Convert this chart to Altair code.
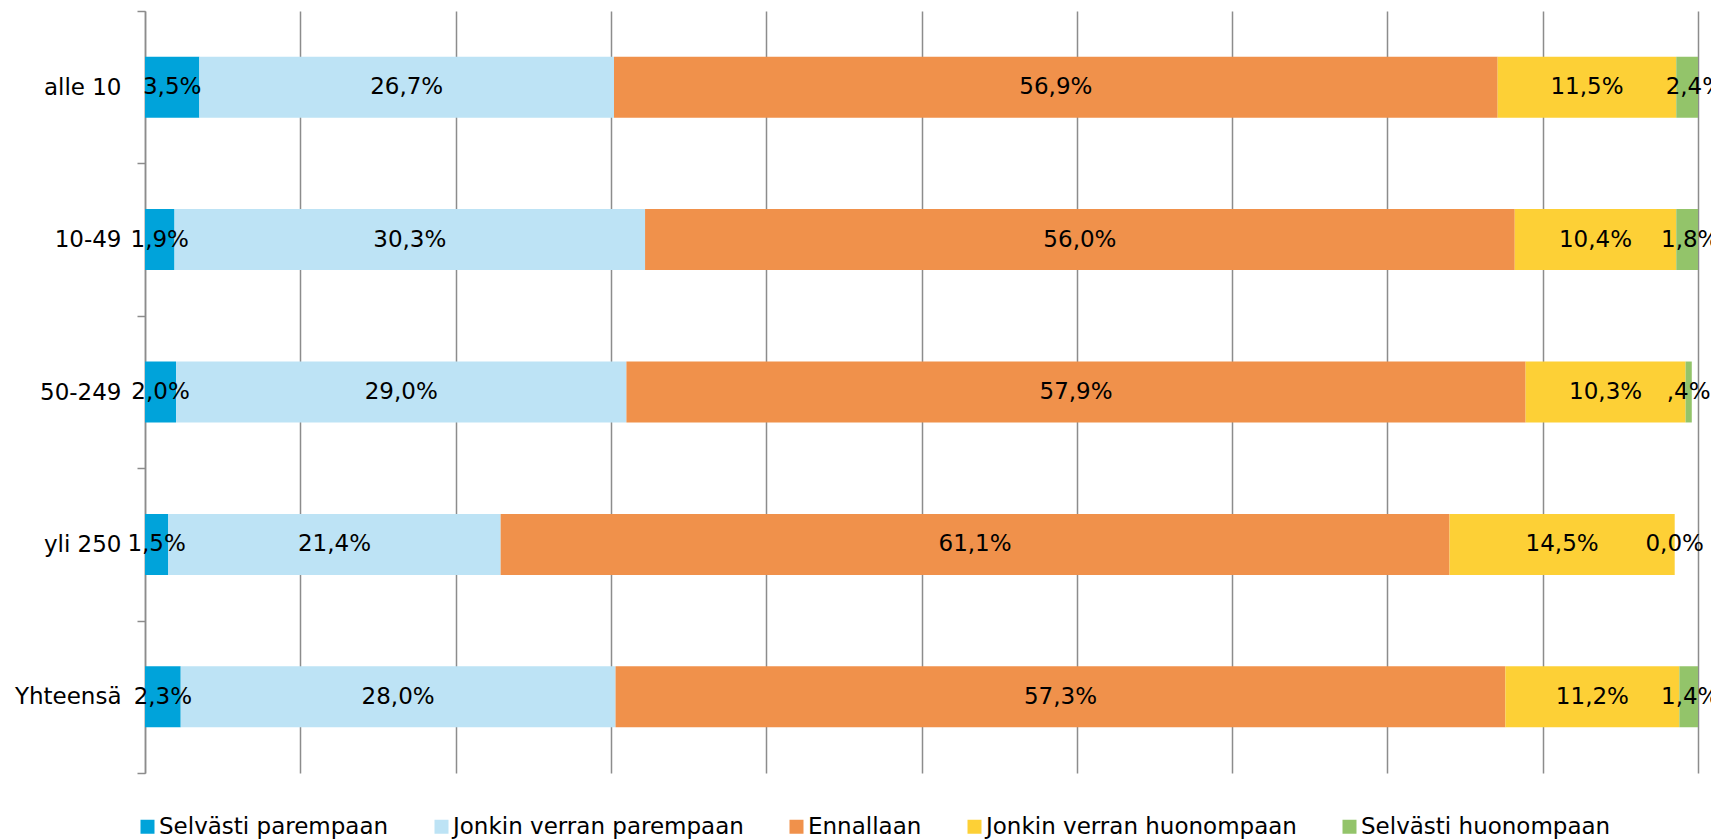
import altair as alt
import pandas as pd

categories = ["alle 10", "10-49", "50-249", "yli 250", "Yhteensä"]
series = ["Selvästi parempaan", "Jonkin verran parempaan", "Ennallaan",
          "Jonkin verran huonompaan", "Selvästi huonompaan"]
colors = ["#00A3DA", "#BDE3F5", "#F0914B", "#FDD036", "#93C46A"]

selvasti_parempaan = [3.5, 1.9, 2.0, 1.5, 2.3]
jonkin_verran_parempaan = [26.7, 30.3, 29.0, 21.4, 28.0]
ennallaan = [56.9, 56.0, 57.9, 61.1, 57.3]
jonkin_verran_huonompaan = [11.5, 10.4, 10.3, 14.5, 11.2]
selvasti_huonompaan = [2.4, 1.8, 0.4, 0.0, 1.4]

series_values = [selvasti_parempaan, jonkin_verran_parempaan, ennallaan,
                 jonkin_verran_huonompaan, selvasti_huonompaan]


def fmt(v):
    s = f"{v:.1f}".replace(".", ",")
    if 0 < v < 1:
        s = s[1:]
    return s + "%"


rows = []
for ci, cat in enumerate(categories):
    start = 0.0
    for si, name in enumerate(series):
        v = series_values[si][ci]
        end = start + v
        rows.append({"cat": cat, "series": name, "order": si, "value": v,
                     "start": start, "end": end, "mid": (start + end) / 2,
                     "label": fmt(v)})
        start = end
df = pd.DataFrame(rows)

FONT = "DejaVu Sans"
GRID = "#8c8c8c"

base = alt.Chart(df)

y_enc = alt.Y("cat:N", sort=categories,
              scale=alt.Scale(paddingInner=0, paddingOuter=0),
              axis=alt.Axis(title=None, tickBand="extent", labelFontSize=23,
                            labelFont=FONT, labelColor="black", labelPadding=16,
                            tickSize=8, tickColor=GRID, tickWidth=1.5,
                            domainColor=GRID, domainWidth=1.5, grid=False))

bars = base.mark_bar(height={"band": 0.4}, clip=True).encode(
    y=y_enc,
    x=alt.X("start:Q", scale=alt.Scale(domain=[0, 100], nice=False),
            axis=alt.Axis(title=None, labels=False, ticks=False, domain=False,
                          grid=True, values=list(range(0, 101, 10)),
                          gridColor=GRID, gridWidth=1.5)),
    x2="end:Q",
    color=alt.Color("series:N", sort=series,
                    scale=alt.Scale(domain=series, range=colors),
                    legend=alt.Legend(title=None, orient="none", direction="horizontal",
                                      legendX=-9, legendY=804, symbolType="square",
                                      symbolSize=196, symbolStrokeWidth=0,
                                      labelFontSize=23, labelFont=FONT,
                                      labelColor="black", labelLimit=0,
                                      labelOffset=0, columnPadding=41, padding=0)),
)

text = base.mark_text(fontSize=23, font=FONT, color="black").encode(
    y=alt.Y("cat:N", sort=categories),
    x=alt.X("mid:Q"),
    text="label:N",
)

chart = alt.layer(bars, text).properties(
    width=1553, height=762,
    autosize=alt.AutoSizeParams(type="none"),
    padding={"left": 137, "top": 3, "right": 13, "bottom": 68},
).configure_view(stroke=None)

chart.save("out.html", embed_options={"renderer": "svg", "actions": False})
